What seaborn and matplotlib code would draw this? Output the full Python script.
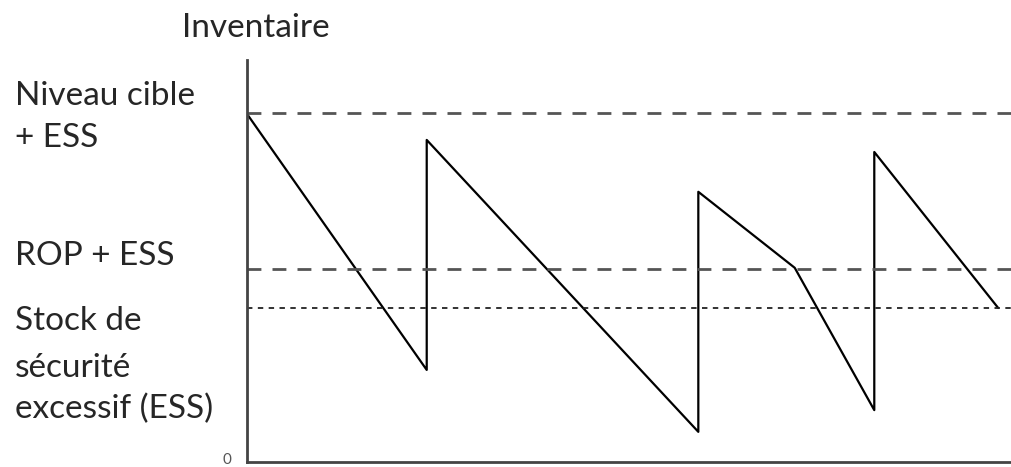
import pandas as pd
import matplotlib
matplotlib.use("Agg")
import matplotlib.pyplot as plt
import seaborn as sns

# Valeurs (échelle arbitraire 0-100)
temps = [0, 23.5, 23.5, 59.0, 59.0, 71.6, 82.0, 82.0, 98.2]
inventaire = [86.6, 22.9, 80.1, 7.5, 67.2, 48.3, 12.9, 77.1, 38.3]

niveau_cible_ess = 86.8
rop_ess = 48.0
stock_securite = 38.3

# texte à gauche, une ligne par entrée, avec la ligne de base en pixels
lignes_gauche = ["Niveau cible", "+ ESS", "ROP + ESS", "Stock de", "sécurité", "excessif (ESS)"]
base_px = [105, 147, 265, 330, 377, 418]

df = pd.DataFrame({"Temps": temps, "Inventaire": inventaire})

sns.set_style("white")
plt.rcParams["font.family"] = ["Lato", "DejaVu Sans"]

fig = plt.figure(figsize=(10.12, 4.67), dpi=100)
ax = fig.add_axes([0.244, 0.0107, 0.756, 0.861])

sns.lineplot(data=df, x="Temps", y="Inventaire", sort=False, estimator=None,
             color="black", linewidth=1.6, ax=ax)

ax.axhline(niveau_cible_ess, color="#555555", linewidth=2, dashes=(5, 4))
ax.axhline(rop_ess, color="#555555", linewidth=2, dashes=(5, 4))
ax.axhline(stock_securite, color="#222222", linewidth=1.3, dashes=(3, 3))

ax.set_xlim(0, 100)
ax.set_ylim(0, 100)
ax.set_xticks([])
ax.set_yticks([])
ax.set_xlabel("")
ax.set_ylabel("")

sns.despine(ax=ax)
for side in ["left", "bottom"]:
    ax.spines[side].set_color("#444444")
    ax.spines[side].set_linewidth(2)

# le zéro de l'axe, placé à la main pour ne pas être coupé en bas
fig.text(227 / 1012, 1 - 464 / 467, "0", fontsize=11, color="#555555",
         ha="center", va="baseline")

fig.text(0.253, 1 - 37 / 467, "Inventaire", fontsize=24, ha="center", va="baseline")
for txt, py in zip(lignes_gauche, base_px):
    fig.text(0.015, 1 - py / 467, txt, fontsize=24, ha="left", va="baseline")

plt.savefig("out.png", dpi=100)
plt.close()
